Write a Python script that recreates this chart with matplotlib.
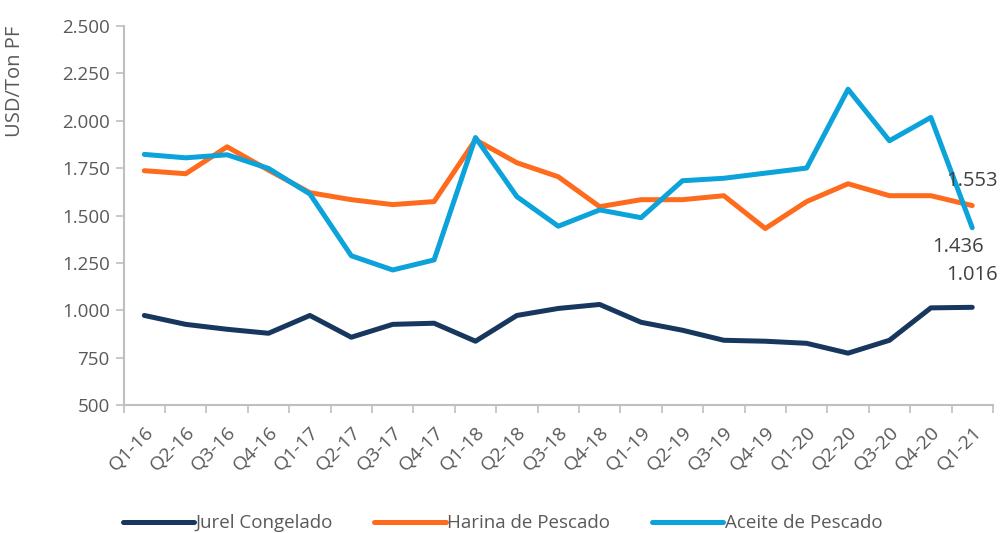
import numpy as np
import matplotlib.pyplot as plt
from matplotlib.ticker import FuncFormatter, FixedLocator

# Data
quarters = ['Q1-16', 'Q2-16', 'Q3-16', 'Q4-16', 'Q1-17', 'Q2-17', 'Q3-17', 'Q4-17',
            'Q1-18', 'Q2-18', 'Q3-18', 'Q4-18', 'Q1-19', 'Q2-19', 'Q3-19', 'Q4-19',
            'Q1-20', 'Q2-20', 'Q3-20', 'Q4-20', 'Q1-21']
jurel = [973, 926, 900, 879, 973, 858, 926, 932, 837, 973, 1010, 1031,
         937, 895, 842, 837, 826, 774, 842, 1013, 1016]
harina = [1737, 1721, 1863, 1740, 1621, 1584, 1558, 1574, 1900, 1779, 1705, 1547,
          1584, 1584, 1605, 1432, 1574, 1668, 1605, 1605, 1553]
aceite = [1823, 1805, 1821, 1749, 1614, 1288, 1213, 1266, 1912, 1600, 1444, 1530,
          1489, 1684, 1697, 1724, 1751, 2167, 1895, 2018, 1436]

c_jurel = '#17375E'
c_harina = '#FF6B1C'
c_aceite = '#0BA3DA'
gray = '#595959'
spine = '#BFBFBF'

plt.rcParams['font.family'] = ['Open Sans', 'DejaVu Sans']

fig = plt.figure(figsize=(10.05, 5.33), dpi=100)
ax = fig.add_axes([0.123, 0.240, 0.865, 0.711])

x = np.arange(len(quarters))
ax.plot(x, jurel, color=c_jurel, lw=3.6, label='Jurel Congelado', solid_capstyle='round')
ax.plot(x, harina, color=c_harina, lw=3.6, label='Harina de Pescado', solid_capstyle='round')
ax.plot(x, aceite, color=c_aceite, lw=3.6, label='Aceite de Pescado', solid_capstyle='round')

# last-value labels
fmt = lambda v: f'{int(v):,}'.replace(',', '.')
last = len(quarters) - 1
ax.annotate(fmt(harina[-1]), (last, harina[-1]), xytext=(0, 18),
            textcoords='offset points', ha='center', va='center', fontsize=14.5, color='#404040')
ax.annotate(fmt(aceite[-1]), (last, aceite[-1]), xytext=(-10, -14),
            textcoords='offset points', ha='center', va='center', fontsize=14.5, color='#404040')
ax.annotate(fmt(jurel[-1]), (last, jurel[-1]), xytext=(0, 23),
            textcoords='offset points', ha='center', va='center', fontsize=14.5, color='#404040')

ax.set_xlim(-0.5, len(quarters) - 0.5)
ax.set_ylim(500, 2500)
ax.set_yticks(np.arange(500, 2501, 250))
ax.yaxis.set_major_formatter(FuncFormatter(lambda v, p: fmt(v)))

ax.set_xticks(x)
ax.set_xticklabels(quarters, rotation=45, ha='right', rotation_mode='anchor')
ax.xaxis.set_minor_locator(FixedLocator(np.arange(-0.5, len(quarters), 1)))
ax.tick_params(axis='x', which='major', length=0, pad=13, labelsize=14, labelcolor=gray)
ax.tick_params(axis='x', which='minor', length=6, color=spine, width=1.2)
ax.tick_params(axis='y', length=6, color=spine, width=1.2, labelsize=13.5, labelcolor=gray, pad=4)

for s in ['top', 'right']:
    ax.spines[s].set_visible(False)
for s in ['left', 'bottom']:
    ax.spines[s].set_color(spine)
    ax.spines[s].set_linewidth(1.5)

ax.set_ylabel('USD/Ton PF', fontsize=14.5, color=gray)
ax.yaxis.set_label_coords(-0.113, 0.855)

fig.legend(loc='lower center', bbox_to_anchor=(0.5, -0.03), ncol=3, frameon=False,
           fontsize=13.5, handlelength=3.8, handletextpad=0.1, columnspacing=2.2,
           labelcolor=gray)

fig.savefig('out.png', dpi=100)
